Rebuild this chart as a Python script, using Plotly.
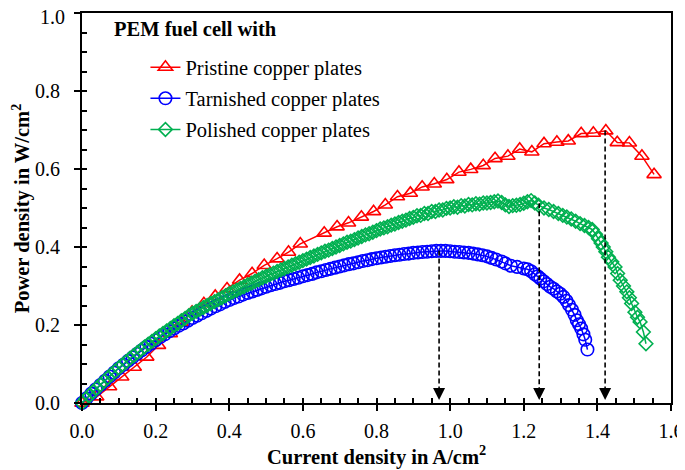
import plotly.graph_objects as go

# ---------------- data ----------------
series_names = ["Pristine copper plates", "Tarnished copper plates", "Polished copper plates"]

pristine_current = [0.000, 0.040, 0.075, 0.108, 0.142, 0.176, 0.208, 0.240, 0.270, 0.299,
                    0.331, 0.362, 0.394, 0.428, 0.462, 0.495, 0.530, 0.561, 0.593, 0.658,
                    0.693, 0.724, 0.759, 0.792, 0.824, 0.857, 0.892, 0.924, 0.957, 0.991,
                    1.024, 1.056, 1.090, 1.122, 1.157, 1.189, 1.222, 1.255, 1.290, 1.321,
                    1.356, 1.389, 1.423, 1.454, 1.487, 1.521, 1.554]
pristine_power = [0.000, 0.016, 0.042, 0.067, 0.092, 0.118, 0.148, 0.178, 0.206, 0.233,
                  0.255, 0.274, 0.293, 0.315, 0.332, 0.353, 0.370, 0.387, 0.408, 0.436,
                  0.452, 0.462, 0.477, 0.491, 0.508, 0.529, 0.538, 0.554, 0.562, 0.573,
                  0.592, 0.599, 0.609, 0.627, 0.633, 0.651, 0.644, 0.665, 0.669, 0.672,
                  0.691, 0.692, 0.698, 0.668, 0.667, 0.633, 0.586]

tarnished_current = [0.0000, 0.0125, 0.0250, 0.0375, 0.0500, 0.0625, 0.0750, 0.0875, 0.1000,
                     0.1125, 0.1250, 0.1375, 0.1500, 0.1625, 0.1750, 0.1875, 0.2000,
                     0.2125, 0.2250, 0.2375, 0.2500, 0.2625, 0.2750, 0.2875, 0.3000,
                     0.3125, 0.3250, 0.3375, 0.3500, 0.3625, 0.3750, 0.3875, 0.4000,
                     0.4125, 0.4250, 0.4375, 0.4500, 0.4625, 0.4750, 0.4875, 0.5000,
                     0.5125, 0.5250, 0.5375, 0.5500, 0.5625, 0.5750, 0.5875, 0.6000,
                     0.6125, 0.6250, 0.6375, 0.6500, 0.6625, 0.6750, 0.6875, 0.7000,
                     0.7125, 0.7250, 0.7375, 0.7500, 0.7625, 0.7750, 0.7875, 0.8000,
                     0.8125, 0.8250, 0.8375, 0.8500, 0.8625, 0.8750, 0.8875, 0.9000,
                     0.9125, 0.9250, 0.9375, 0.9500, 0.9625, 0.9750, 0.9875, 1.0000,
                     1.0125, 1.0250, 1.0375, 1.0500, 1.0625, 1.0750, 1.0875, 1.1000,
                     1.1125, 1.1250,
                     1.140, 1.150, 1.165, 1.182, 1.200, 1.210, 1.220, 1.230, 1.238, 1.245,
                     1.254, 1.263, 1.272, 1.281, 1.290, 1.299, 1.308, 1.316, 1.323, 1.331,
                     1.338, 1.344, 1.350, 1.356, 1.362, 1.367, 1.373]
tarnished_power = [0.000, 0.012, 0.024, 0.035, 0.046, 0.057, 0.068, 0.078, 0.089,
                   0.098, 0.108, 0.117, 0.126, 0.135, 0.144, 0.152, 0.161,
                   0.169, 0.176, 0.184, 0.191, 0.198, 0.204, 0.211, 0.218,
                   0.224, 0.230, 0.236, 0.242, 0.248, 0.253, 0.259, 0.264,
                   0.269, 0.273, 0.278, 0.282, 0.286, 0.290, 0.294, 0.298,
                   0.302, 0.305, 0.308, 0.312, 0.315, 0.318, 0.321, 0.325,
                   0.328, 0.331, 0.335, 0.338, 0.341, 0.344, 0.347, 0.350,
                   0.353, 0.356, 0.358, 0.361, 0.364, 0.366, 0.369, 0.371,
                   0.373, 0.375, 0.377, 0.379, 0.380, 0.382, 0.383, 0.385,
                   0.386, 0.387, 0.388, 0.389, 0.390, 0.390, 0.390, 0.389,
                   0.388, 0.387, 0.386, 0.385, 0.383, 0.381, 0.379, 0.376,
                   0.372, 0.368,
                   0.363, 0.358, 0.352, 0.349, 0.345, 0.343, 0.338, 0.330, 0.325, 0.319,
                   0.312, 0.305, 0.298, 0.293, 0.286, 0.280, 0.272, 0.262, 0.251, 0.239,
                   0.226, 0.212, 0.202, 0.191, 0.176, 0.162, 0.137]

polished_current = [0.00, 0.01, 0.02, 0.03, 0.04, 0.05, 0.06, 0.07, 0.08, 0.09,
                    0.10, 0.11, 0.12, 0.13, 0.14, 0.15, 0.16, 0.17, 0.18, 0.19,
                    0.20, 0.21, 0.22, 0.23, 0.24, 0.25, 0.26, 0.27, 0.28, 0.29,
                    0.30, 0.31, 0.32, 0.33, 0.34, 0.35, 0.36, 0.37, 0.38, 0.39,
                    0.40, 0.41, 0.42, 0.43, 0.44, 0.45, 0.46, 0.47, 0.48, 0.49,
                    0.50, 0.51, 0.52, 0.53, 0.54, 0.55, 0.56, 0.57, 0.58, 0.59,
                    0.60, 0.61, 0.62, 0.63, 0.64, 0.65, 0.66, 0.67, 0.68, 0.69,
                    0.70, 0.71, 0.72, 0.73, 0.74, 0.75, 0.76, 0.77, 0.78, 0.79,
                    0.80, 0.81, 0.82, 0.83, 0.84, 0.85, 0.86, 0.87, 0.88, 0.89,
                    0.90, 0.91, 0.92, 0.93, 0.94, 0.95, 0.96, 0.97, 0.98, 0.99,
                    1.00, 1.01, 1.02, 1.03, 1.04, 1.05, 1.06, 1.07, 1.08, 1.09,
                    1.10, 1.11, 1.12, 1.13, 1.14, 1.15, 1.16, 1.17, 1.18, 1.19,
                    1.20, 1.21, 1.22, 1.23, 1.24,
                    1.255, 1.268, 1.281, 1.294, 1.306, 1.317, 1.329, 1.341, 1.353, 1.365,
                    1.376, 1.386, 1.395, 1.403, 1.410, 1.416, 1.423, 1.430, 1.439, 1.448,
                    1.455, 1.462, 1.471, 1.480, 1.487, 1.493, 1.502, 1.509, 1.516, 1.525,
                    1.532]
polished_power = [0.000, 0.010, 0.019, 0.029, 0.038, 0.047, 0.056, 0.065, 0.073, 0.082,
                  0.090, 0.098, 0.106, 0.114, 0.121, 0.129, 0.136, 0.144, 0.151, 0.158,
                  0.165, 0.172, 0.178, 0.185, 0.191, 0.198, 0.204, 0.211, 0.217, 0.224,
                  0.230, 0.235, 0.240, 0.245, 0.250, 0.255, 0.260, 0.265, 0.270, 0.275,
                  0.280, 0.285, 0.289, 0.294, 0.298, 0.303, 0.307, 0.312, 0.316, 0.321,
                  0.325, 0.329, 0.333, 0.337, 0.341, 0.345, 0.349, 0.353, 0.357, 0.361,
                  0.365, 0.369, 0.373, 0.377, 0.381, 0.385, 0.389, 0.392, 0.396, 0.400,
                  0.404, 0.408, 0.412, 0.415, 0.419, 0.423, 0.427, 0.431, 0.434, 0.438,
                  0.442, 0.446, 0.449, 0.452, 0.456, 0.459, 0.463, 0.466, 0.469, 0.473,
                  0.476, 0.480, 0.481, 0.486, 0.486, 0.491, 0.491, 0.495, 0.495, 0.499,
                  0.500, 0.503, 0.502, 0.506, 0.505, 0.509, 0.508, 0.511, 0.510, 0.513,
                  0.513, 0.514, 0.516, 0.518, 0.514, 0.508, 0.504, 0.506, 0.507, 0.509,
                  0.512, 0.516, 0.519, 0.513, 0.507,
                  0.500, 0.496, 0.491, 0.486, 0.481, 0.477, 0.472, 0.466, 0.460, 0.455,
                  0.450, 0.445, 0.433, 0.421, 0.410, 0.400, 0.388, 0.374, 0.362, 0.349,
                  0.332, 0.315, 0.300, 0.285, 0.270, 0.255, 0.233, 0.220, 0.208, 0.182,
                  0.152]

# maximum power points marked by dashed arrows
peak_current = [0.970, 1.242, 1.421]
peak_power = [0.391, 0.512, 0.699]

x_tick_values = [0.0, 0.2, 0.4, 0.6, 0.8, 1.0, 1.2, 1.4, 1.6]
y_tick_values = [0.0, 0.2, 0.4, 0.6, 0.8, 1.0]
y_tick_labels = ["0.0", "0.2", "0.4", "0.6", "0.8", "1.0"]

# ---------------- styling ----------------
FONT = "Liberation Serif"
colors = ["#FF0000", "#0000FF", "#00B050"]
symbols = ["triangle-up-open", "circle-open", "diamond-open"]
sizes = [12.5, 12.5, 10.5]

# the page body adds an 8 px offset; the figure is sized to fill the rest of the window
OFF = 8
W, H = 685 - OFF, 470 - OFF
PLOT_LEFT, PLOT_RIGHT, PLOT_TOP, PLOT_BOTTOM = 81.5, 671, 12.7, 402.7  # window pixels
L, T = PLOT_LEFT - OFF, PLOT_TOP - OFF
R, B = W - (PLOT_RIGHT - OFF), H - (PLOT_BOTTOM - OFF)
PW, PH = PLOT_RIGHT - PLOT_LEFT, PLOT_BOTTOM - PLOT_TOP


def px_x(px):  # window pixel -> paper coordinate
    return (px - PLOT_LEFT) / PW


def px_y(py):
    return (PLOT_BOTTOM - py) / PH


fig = go.Figure()
data = [(pristine_current, pristine_power),
        (tarnished_current, tarnished_power),
        (polished_current, polished_power)]
for i, (xs, ys) in enumerate(data):
    fig.add_trace(go.Scatter(
        x=xs, y=ys, name=series_names[i], mode="lines+markers",
        line=dict(color=colors[i], width=1.5),
        marker=dict(symbol=symbols[i], size=sizes[i], color=colors[i],
                    line=dict(color=colors[i], width=1.6)),
        cliponaxis=False, legendgroup=f"g{i}",
    ))

# invisible trace that carries the inner (minor) tick axes
fig.add_trace(go.Scatter(x=[None], y=[None], xaxis="x2", yaxis="y2",
                         showlegend=False, hoverinfo="skip"))

# dashed arrows from maxima down to the axis
for xc, yp in zip(peak_current, peak_power):
    fig.add_shape(type="line", xref="x", yref="y", x0=xc, x1=xc, y0=yp, y1=0.02,
                  line=dict(color="black", width=1.6, dash="5px,3px"))
    fig.add_annotation(x=xc, y=0.008, xref="x", yref="y", ax=0, ay=-12,
                       text="", showarrow=True, arrowhead=2, arrowsize=1.6,
                       arrowwidth=1.5, arrowcolor="black")

fig.add_annotation(text="<b>PEM fuel cell with</b>", xref="paper", yref="paper",
                   x=px_x(112), y=px_y(29), xanchor="left", yanchor="middle",
                   showarrow=False, font=dict(family=FONT, size=20.5, color="black"))

# axis titles
fig.add_annotation(text="<b>Current density in A/cm<sup>2</sup></b>", xref="paper",
                   yref="paper", x=0.5, y=px_y(455), xanchor="center", yanchor="middle",
                   showarrow=False, font=dict(family=FONT, size=20.5, color="black"))
fig.add_annotation(text="<b>Power density in W/cm<sup>2</sup></b>", xref="paper",
                   yref="paper", x=px_x(20.5), y=px_y(208), xanchor="center",
                   yanchor="middle", textangle=-90, showarrow=False,
                   font=dict(family=FONT, size=20.5, color="black"))

# the top y label would be clipped at the page edge, so it is nudged down slightly
fig.add_annotation(text=y_tick_labels[-1], xref="paper", yref="paper",
                   x=px_x(66), y=px_y(16.5), xanchor="right", yanchor="middle",
                   showarrow=False, font=dict(family=FONT, size=20, color="black"))

axis_common = dict(showgrid=False, zeroline=False, showline=True, linecolor="black",
                   linewidth=1.8, mirror=True, ticks="outside", ticklen=6,
                   tickwidth=1.5, tickcolor="black", automargin=False,
                   ticklabeloverflow="allow",
                   tickfont=dict(family=FONT, size=20, color="black"))

fig.update_layout(
    width=W, height=H,
    margin=dict(l=L, r=R, t=T, b=B, autoexpand=False),
    paper_bgcolor="white", plot_bgcolor="white",
    font=dict(family=FONT, size=20, color="black"),
    xaxis=dict(range=[0, 1.6], tickvals=x_tick_values, tickformat=".1f",
               ticklabelstandoff=3, **axis_common),
    yaxis=dict(range=[0, 1.0], tickvals=y_tick_values,
               ticktext=y_tick_labels[:-1] + [""], ticklabelstandoff=10,
               **axis_common),
    xaxis2=dict(overlaying="x", anchor="y", range=[0, 1.6], dtick=0.05, tick0=0,
                ticks="inside", ticklen=5, tickwidth=1.5, tickcolor="black",
                showticklabels=False, showline=False, showgrid=False, zeroline=False),
    yaxis2=dict(overlaying="y", anchor="x", side="left", range=[0, 1.0], dtick=0.05,
                tick0=0, ticks="inside", ticklen=5, tickwidth=1.5, tickcolor="black",
                showticklabels=False, showline=False, showgrid=False, zeroline=False),
    legend=dict(x=px_x(145), y=px_y(47), xanchor="left", yanchor="top",
                bgcolor="rgba(0,0,0,0)", borderwidth=0, tracegroupgap=1.5,
                font=dict(family=FONT, size=20.5, color="black")),
    showlegend=True,
)

fig.write_html("out.html")
